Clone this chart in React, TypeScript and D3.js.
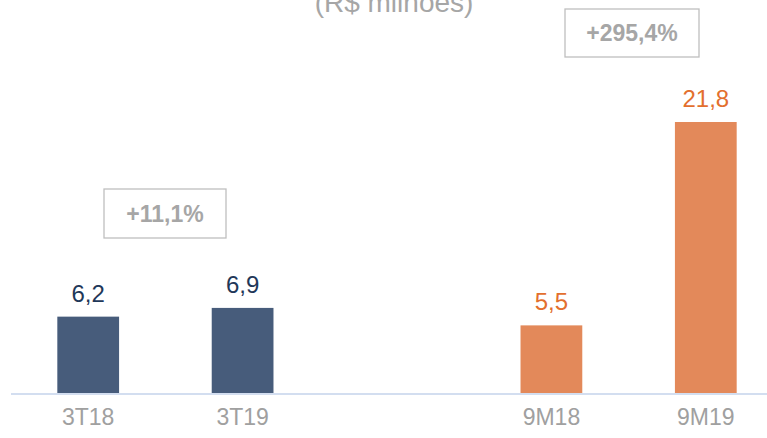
import React, { useRef, useEffect } from "react";
import { select, scaleBand, scaleLinear, axisBottom } from "d3";

// chart values
const categories = ["3T18", "3T19", "gap", "9M18", "9M19"];
const valores = [6.2, 6.9, null, 5.5, 21.8];
const rotulos = ["6,2", "6,9", "", "5,5", "21,8"];
const variacoes = ["+11,1%", "+295,4%"];
const titulo = "(R$ milhões)";

const W = 767;
const H = 438;
const FONT = "'Liberation Sans', Arial, sans-serif";

function App() {
  const svgRef = useRef(null);

  useEffect(() => {
    const svg = select(svgRef.current);
    svg.selectAll("*").remove();

    const baseY = 394;
    const x = scaleBand().domain(categories).range([11, 783]).paddingInner(0.6).paddingOuter(0.3);
    const y = scaleLinear().domain([0, 21.8]).range([baseY, 122]);

    // title, cut at the top edge like the original
    svg.append("text")
      .attr("x", 394).attr("y", 12)
      .attr("text-anchor", "middle")
      .attr("font-family", FONT).attr("font-size", 28)
      .attr("fill", "#a6a6a6")
      .text(titulo);

    const data = categories.map((c, i) => ({ c, v: valores[i], lab: rotulos[i], i }))
      .filter(d => d.v !== null);

    const cor = d => (d.i < 2 ? "#475c7b" : "#e3895a");
    const corTexto = d => (d.i < 2 ? "#1f3859" : "#e36f2e");

    svg.selectAll(".bar")
      .data(data)
      .join("rect")
      .attr("class", "bar")
      .attr("x", d => x(d.c))
      .attr("width", x.bandwidth())
      .attr("y", d => y(d.v))
      .attr("height", d => baseY - y(d.v))
      .attr("fill", cor);

    svg.selectAll(".rot")
      .data(data)
      .join("text")
      .attr("class", "rot")
      .attr("x", d => x(d.c) + x.bandwidth() / 2)
      .attr("y", d => y(d.v) - 15)
      .attr("text-anchor", "middle")
      .attr("font-family", FONT).attr("font-size", 24)
      .attr("fill", corTexto)
      .text(d => d.lab);

    // axis
    const xaxis = axisBottom(x).tickSize(0).tickPadding(15)
      .tickFormat(d => (d === "gap" ? "" : d));
    const g = svg.append("g")
      .attr("transform", `translate(0,${baseY})`)
      .call(xaxis);
    g.select(".domain").attr("stroke", "#d3def0").attr("stroke-width", 2).attr("d", `M11,0H${W}`);
    g.selectAll("text")
      .attr("font-family", FONT).attr("font-size", 23)
      .attr("fill", "#a0a0a0")
      .attr("dy", "0.71em");

    // growth boxes
    const caixas = [
      { t: variacoes[0], x0: 104, x1: 226, y0: 189, y1: 238 },
      { t: variacoes[1], x0: 565, x1: 699, y0: 9, y1: 57 },
    ];
    const cx = svg.selectAll(".caixa").data(caixas).join("g").attr("class", "caixa");
    cx.append("rect")
      .attr("x", d => d.x0).attr("y", d => d.y0)
      .attr("width", d => d.x1 - d.x0).attr("height", d => d.y1 - d.y0)
      .attr("fill", "#fff").attr("stroke", "#bfbfbf").attr("stroke-width", 1.3);
    cx.append("text")
      .attr("x", d => (d.x0 + d.x1) / 2)
      .attr("y", d => (d.y0 + d.y1) / 2 + 8)
      .attr("text-anchor", "middle")
      .attr("font-family", FONT).attr("font-size", 23).attr("font-weight", "bold")
      .attr("fill", "#a6a6a6")
      .text(d => d.t);
  }, []);

  return (
    <svg ref={svgRef} width={W} height={H} style={{ position: "absolute", left: 0, top: 0 }}></svg>
  );
}

export default App;
